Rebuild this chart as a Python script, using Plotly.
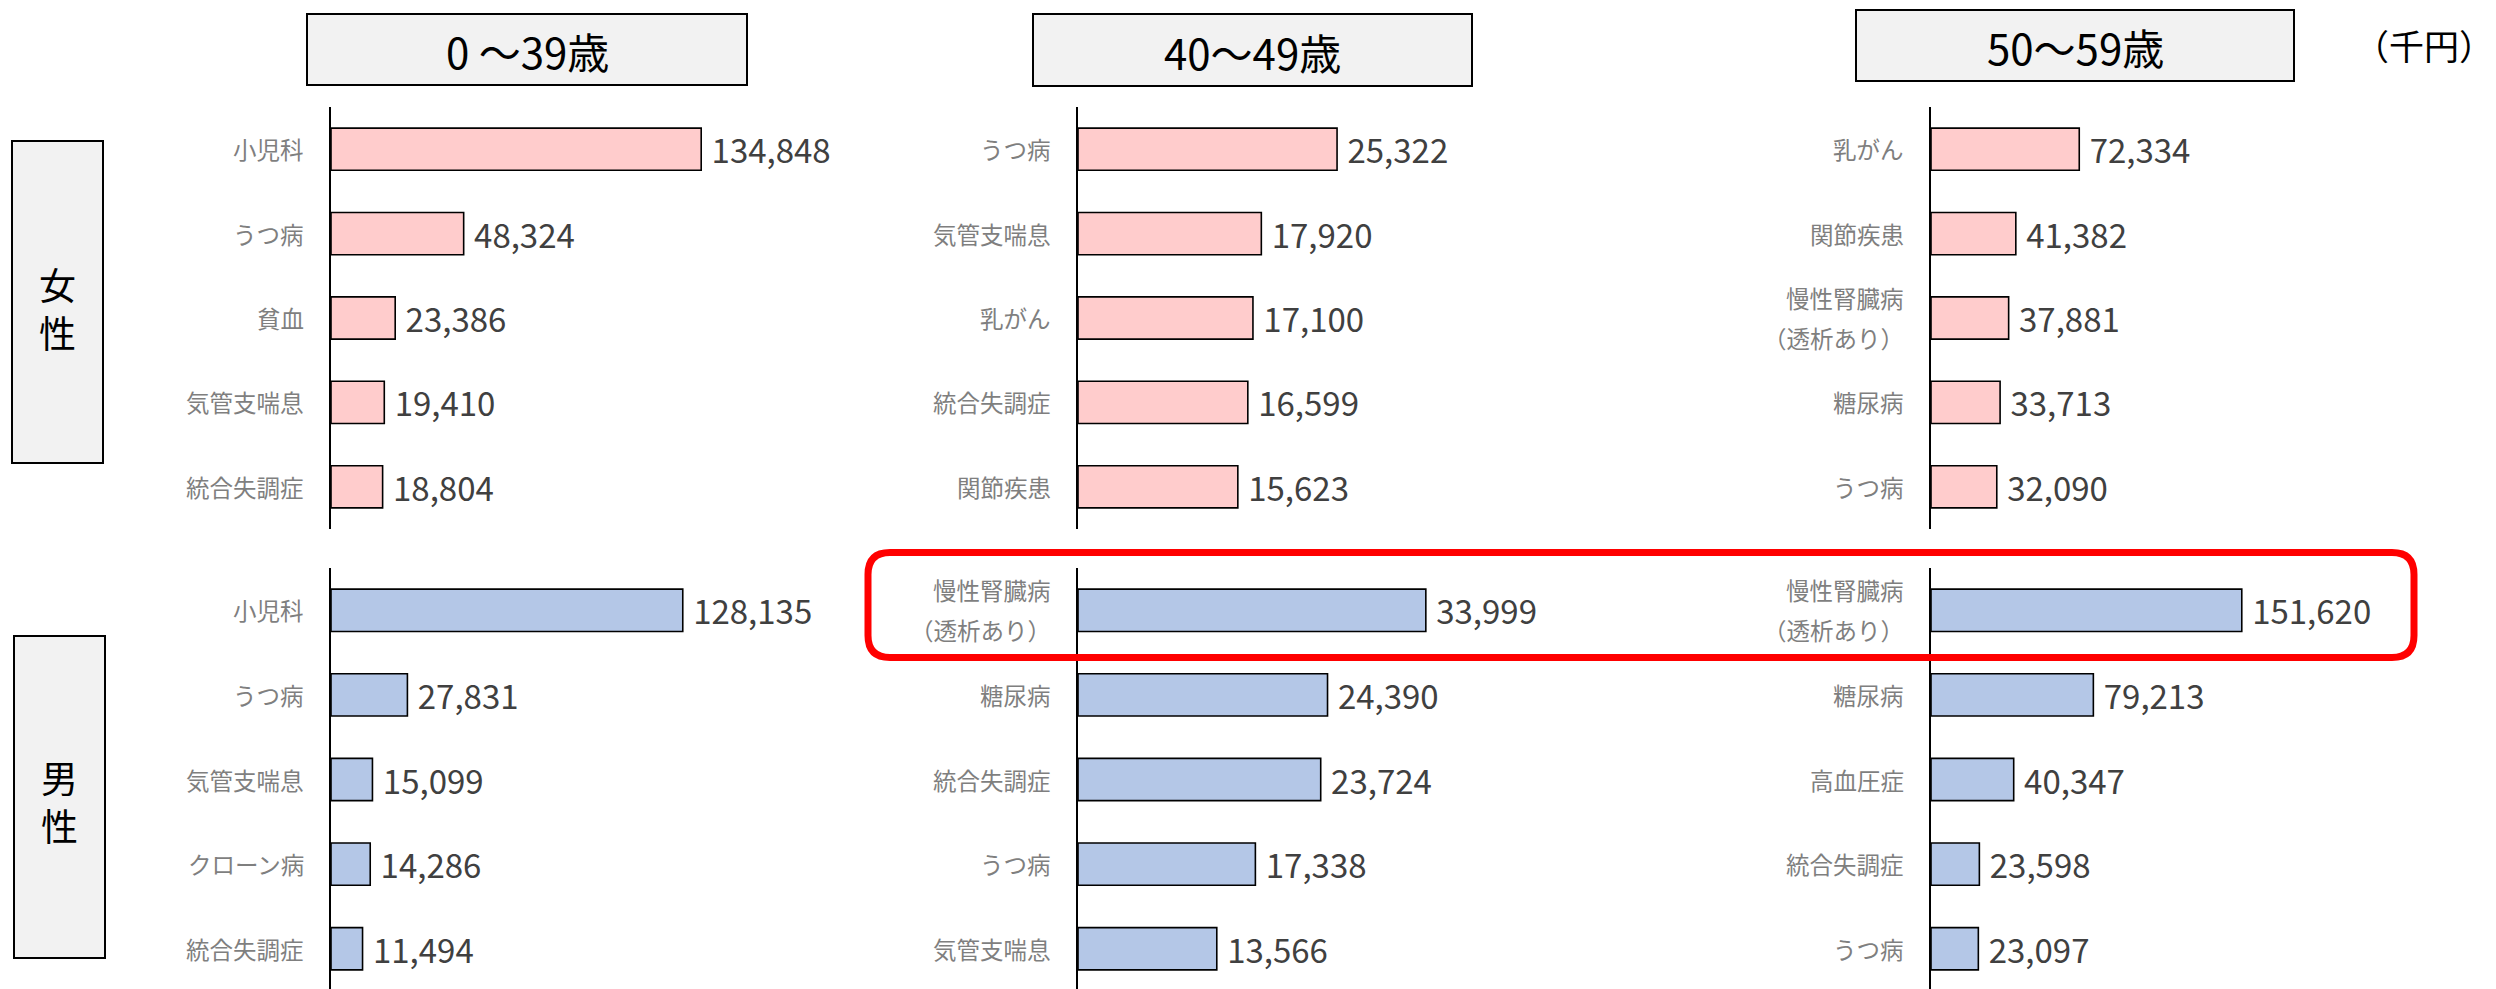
import plotly.graph_objects as go

# ---------------- data ----------------
age_groups = ["0 ～39歳", "40～49歳", "50～59歳"]
sex_labels = ["女性", "男性"]
unit_label = "（千円）"

female_0_39_cats = ["小児科", "うつ病", "貧血", "気管支喘息", "統合失調症"]
female_0_39_vals = [134848, 48324, 23386, 19410, 18804]
female_40_49_cats = ["うつ病", "気管支喘息", "乳がん", "統合失調症", "関節疾患"]
female_40_49_vals = [25322, 17920, 17100, 16599, 15623]
female_50_59_cats = ["乳がん", "関節疾患", "慢性腎臓病\n（透析あり）", "糖尿病", "うつ病"]
female_50_59_vals = [72334, 41382, 37881, 33713, 32090]

male_0_39_cats = ["小児科", "うつ病", "気管支喘息", "クローン病", "統合失調症"]
male_0_39_vals = [128135, 27831, 15099, 14286, 11494]
male_40_49_cats = ["慢性腎臓病\n（透析あり）", "糖尿病", "統合失調症", "うつ病", "気管支喘息"]
male_40_49_vals = [33999, 24390, 23724, 17338, 13566]
male_50_59_cats = ["慢性腎臓病\n（透析あり）", "糖尿病", "高血圧症", "統合失調症", "うつ病"]
male_50_59_vals = [151620, 79213, 40347, 23598, 23097]

# ---------------- layout constants ----------------
W, H = 2496, 989
FONT = "Noto Sans CJK JP, Noto Sans, sans-serif"
PINK = "#FFCCCC"
BLUE = "#B4C7E7"


def px(x):
    return x / W


def py(y):
    return 1 - y / H


panels = [
    (female_0_39_cats, female_0_39_vals, PINK),
    (female_40_49_cats, female_40_49_vals, PINK),
    (female_50_59_cats, female_50_59_vals, PINK),
    (male_0_39_cats, male_0_39_vals, BLUE),
    (male_40_49_cats, male_40_49_vals, BLUE),
    (male_50_59_cats, male_50_59_vals, BLUE),
]

# column: axis left pixel, pixel width, x max value
col_axes = [(331, 470, 171200), (1078, 470, 45940), (1931, 470, 229300)]
row_axes = [((107, 529), [4.5, -0.5]), ((568, 989), [4.476, -0.5])]

fig = go.Figure()
layout = dict()
annotations = []

for i, (cats, vals, color) in enumerate(panels):
    n = i + 1
    col = i % 3
    row = i // 3
    sfx = "" if n == 1 else str(n)
    fig.add_trace(go.Bar(
        x=vals, y=cats, orientation="h",
        marker=dict(color=color, line=dict(color="#000000", width=1.6)),
        width=0.5,
        texttemplate="\u00a0%{x:,}",
        textposition="outside",
        constraintext="none",
        cliponaxis=False,
        textfont=dict(size=33, color="#404040", family=FONT),
        xaxis="x" + sfx, yaxis="y" + sfx,
        showlegend=False,
        hoverinfo="skip",
    ))
    left, width, xmax = col_axes[col]
    (ytop, ybot), yrange = row_axes[row]
    layout["xaxis" + sfx] = dict(
        domain=[px(left), px(left + width)], range=[0, xmax],
        visible=False, anchor="y" + sfx, fixedrange=True,
    )
    layout["yaxis" + sfx] = dict(
        domain=[max(0, py(ybot)), py(ytop)], range=yrange,
        type="category", categoryorder="array", categoryarray=cats,
        showline=True, linecolor="#000000", linewidth=1.6,
        showticklabels=False, ticks="", showgrid=False, zeroline=False,
        anchor="x" + sfx, fixedrange=True,
    )
    # category labels
    for c in cats:
        lines = c.split("\n")
        shifts = [0] if len(lines) == 1 else [20, -20]
        for ln, sh in zip(lines, shifts):
            annotations.append(dict(
                x=0, xref="x" + sfx + " domain", xanchor="right", xshift=-25,
                y=c, yref="y" + sfx, yanchor="middle", yshift=sh,
                text=ln, showarrow=False,
                font=dict(size=23.5, color="#7F7F7F", family=FONT),
            ))

shapes = []
# header boxes
header_boxes = [(307, 747, 14, 85), (1033, 1472, 14, 86), (1856, 2294, 10, 81)]
for (x0, x1, y0, y1), label in zip(header_boxes, age_groups):
    shapes.append(dict(type="rect", xref="paper", yref="paper",
                       x0=px(x0), x1=px(x1), y0=py(y1), y1=py(y0),
                       fillcolor="#F2F2F2", line=dict(color="#000000", width=2),
                       layer="below"))
    annotations.append(dict(x=px((x0 + x1) / 2), y=py((y0 + y1) / 2 + 1),
                            xref="paper", yref="paper", xanchor="center", yanchor="middle",
                            text=label, showarrow=False,
                            font=dict(size=42, color="#000000", family=FONT)))

# sex boxes (vertical text: one character per line)
sex_boxes = [(12, 103, 141, 463), (14, 105, 636, 958)]
sex_text_y = [308, 801]
for (x0, x1, y0, y1), label, cy in zip(sex_boxes, sex_labels, sex_text_y):
    shapes.append(dict(type="rect", xref="paper", yref="paper",
                       x0=px(x0), x1=px(x1), y0=py(y1), y1=py(y0),
                       fillcolor="#F2F2F2", line=dict(color="#000000", width=2),
                       layer="below"))
    annotations.append(dict(x=px((x0 + x1) / 2), y=py(cy),
                            xref="paper", yref="paper", xanchor="center", yanchor="middle",
                            text="<br>".join(label), showarrow=False,
                            font=dict(size=37, color="#000000", family=FONT)))

# unit label
annotations.append(dict(x=px(2496), y=py(44), xref="paper", yref="paper",
                        xanchor="right", yanchor="middle", text=unit_label, showarrow=False,
                        font=dict(size=35, color="#000000", family=FONT)))

# red rounded highlight box
rx0, rx1, ry0, ry1, r = 868, 2414, 552.5, 657.5, 22
pts = [
    ("M", rx0 + r, ry0), ("L", rx1 - r, ry0), ("Q", rx1, ry0, rx1, ry0 + r),
    ("L", rx1, ry1 - r), ("Q", rx1, ry1, rx1 - r, ry1), ("L", rx0 + r, ry1),
    ("Q", rx0, ry1, rx0, ry1 - r), ("L", rx0, ry0 + r), ("Q", rx0, ry0, rx0 + r, ry0),
]
path = ""
for p in pts:
    cmd, coords = p[0], p[1:]
    parts = []
    for k in range(0, len(coords), 2):
        parts.append(f"{px(coords[k]):.6f},{py(coords[k + 1]):.6f}")
    path += cmd + " " + " ".join(parts) + " "
path += "Z"
shapes.append(dict(type="path", xref="paper", yref="paper", path=path,
                   line=dict(color="#FF0000", width=7), fillcolor="rgba(0,0,0,0)",
                   layer="above"))

fig.update_layout(
    width=W, height=H,
    margin=dict(l=0, r=0, t=0, b=0),
    paper_bgcolor="#FFFFFF", plot_bgcolor="rgba(0,0,0,0)",
    font=dict(family=FONT),
    shapes=shapes, annotations=annotations,
    bargap=0.5,
    **layout,
)

fig.write_html(
    "out.html",
    config={"displayModeBar": False},
    post_script="document.body.style.margin='0';document.body.style.overflow='hidden';",
)
